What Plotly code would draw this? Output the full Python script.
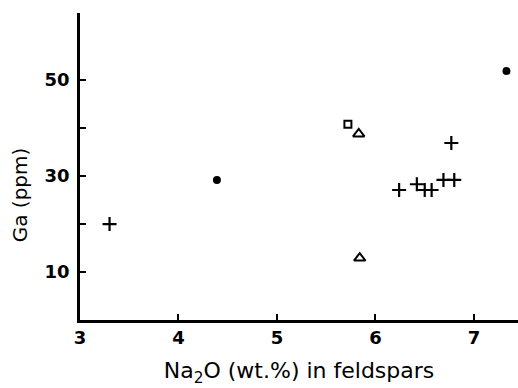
import plotly.graph_objects as go

# Data
plus_x = [3.30, 6.24, 6.42, 6.50, 6.57, 6.69, 6.80, 6.77]
plus_y = [20.0, 27.1, 28.3, 27.1, 27.1, 29.2, 29.2, 36.9]
dot_x = [4.39, 7.33]
dot_y = [29.2, 51.9]
square_x = [5.72]
square_y = [40.8]
tri_x = [5.83, 5.84]
tri_y = [38.8, 12.9]

x_tickvals = [3, 4, 5, 6, 7]
x_ticktext = ["3", "4", "5", "6", "7"]
y_tickvals = [10, 30, 50]
y_ticktext = ["10", "30", "50"]
y_minor_tickvals = [20, 40]
y_title = "Ga (ppm)"
x_title = "Na<sub>2</sub>O (wt.%) in feldspars"

fig = go.Figure()
fig.add_trace(go.Scatter(x=plus_x, y=plus_y, mode="markers",
                         marker=dict(symbol="cross-thin", size=10, color="black",
                                     line=dict(color="black", width=2.2))))
fig.add_trace(go.Scatter(x=dot_x, y=dot_y, mode="markers",
                         marker=dict(symbol="circle", size=8, color="black")))
fig.add_trace(go.Scatter(x=square_x, y=square_y, mode="markers",
                         marker=dict(symbol="square-open", size=7, color="black",
                                     line=dict(color="black", width=2))))
fig.add_trace(go.Scatter(x=tri_x, y=tri_y, mode="markers",
                         marker=dict(symbol="triangle-up-open", size=10, color="black",
                                     line=dict(color="black", width=2))))

fig.add_annotation(text=y_title, textangle=-90, xref="paper", yref="y",
                   x=0, y=26, xanchor="center", yanchor="middle", xshift=-60,
                   showarrow=False, font=dict(family="DejaVu Sans", size=20, color="black"))

fig.update_layout(
    width=518, height=388,
    margin=dict(l=80, r=0, t=13, b=68),
    paper_bgcolor="white", plot_bgcolor="white",
    showlegend=False,
    font=dict(family="DejaVu Sans", color="black"),
    xaxis=dict(range=[3, 7.447], tickvals=x_tickvals, ticktext=x_ticktext,
               ticks="inside", ticklen=6, tickwidth=2, tickcolor="black",
               showline=True, linecolor="black", linewidth=2.5,
               showgrid=False, zeroline=False,
               tickfont=dict(family="DejaVu Sans", size=18, weight="bold"),
               ticklabelstandoff=0,
               title=dict(text=x_title,
                          font=dict(family="DejaVu Sans", size=22), standoff=16)),
    yaxis=dict(range=[0, 64], tickvals=y_tickvals, ticktext=y_ticktext,
               ticks="inside", ticklen=6, tickwidth=2, tickcolor="black",
               minor=dict(tickvals=y_minor_tickvals, ticks="inside", ticklen=6,
                          tickwidth=2, tickcolor="black", showgrid=False),
               showline=True, linecolor="black", linewidth=2.5,
               showgrid=False, zeroline=False,
               tickfont=dict(family="DejaVu Sans", size=18, weight="bold"),
               ticklabelstandoff=4),
)

fig.write_html("out.html")
